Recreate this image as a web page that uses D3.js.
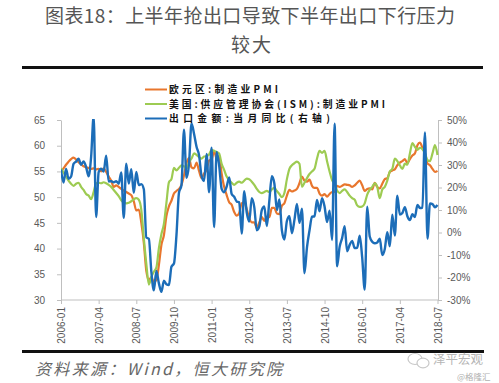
<!DOCTYPE html>
<html><head><meta charset="utf-8">
<script src="https://cdn.jsdelivr.net/npm/d3@7"></script>
<style>
body{margin:0;background:#fff;}
svg{display:block;}
</style></head><body>
<script>
// ---------- data ----------
const titleLines = ["图表18：上半年抢出口导致下半年出口下行压力", "较大"];
const sourceText = "资料来源：Wind，恒大研究院";
const seriesNames = ["欧元区:制造业PMI", "美国:供应管理协会(ISM):制造业PMI", "出口金额:当月同比(右轴)"];
const tickLabels = ["2006-01","2007-04","2008-07","2009-10","2011-01","2012-04","2013-07","2014-10","2016-01","2017-04","2018-07"];
const leftTicks = [30,35,40,45,50,55,60,65];
const rightTicks = [-30,-20,-10,0,10,20,30,40,50];

const euroPMI = [
 55.0,55.6,56.3,56.9,57.4,57.7,57.3,56.8,56.4,56.0,55.8,55.7,
 55.5,55.6,55.4,55.5,55.0,55.6,54.9,54.0,53.2,52.0,52.3,52.0,
 51.6,51.3,51.0,50.7,50.4,49.2,47.4,47.6,45.0,41.1,35.6,33.9,
 34.4,33.5,33.9,36.8,40.7,42.6,46.3,48.2,49.3,50.7,51.2,51.6,
 52.4,54.2,56.6,57.6,55.8,55.6,56.7,55.1,53.7,54.6,55.3,57.1,
 57.3,59.0,57.5,58.0,54.6,52.0,50.4,49.0,48.5,47.1,46.4,46.9,
 48.8,49.0,47.7,45.9,45.1,45.1,44.0,45.1,46.1,45.4,46.2,46.1,
 47.9,47.9,46.8,46.7,48.3,48.8,50.3,51.4,51.1,51.3,51.6,52.7,
 54.0,53.2,53.0,53.4,52.2,51.8,51.8,50.7,50.3,50.6,50.1,50.6,
 51.0,51.0,52.2,52.0,52.2,52.5,52.4,52.3,52.0,52.3,52.8,53.2,
 52.3,51.2,51.6,51.7,51.5,52.8,52.0,51.7,52.6,53.5,53.7,54.9,
 55.2,55.4,56.2,56.7,57.0,57.4,56.6,57.4,58.1,58.5,60.1,60.6,
 59.6,58.6,56.6,56.2,55.5,54.9,55.1
];
const usISM = [
 55.6,54.8,54.0,53.2,52.6,52.2,52.6,52.8,52.0,51.4,50.6,50.3,
 49.6,51.0,52.7,52.8,52.7,52.9,52.7,52.4,52.0,51.4,50.8,50.2,
 49.4,49.0,48.8,48.9,49.2,49.6,49.8,49.5,47.5,42.0,37.0,33.0,
 34.5,35.5,36.3,40.1,42.8,44.8,48.9,52.9,53.5,55.7,55.2,55.7,
 56.2,56.0,55.5,56.8,57.5,58.5,58.2,57.8,57.5,57.9,58.0,58.3,
 59.2,59.0,58.8,58.5,56.5,55.3,54.0,53.3,52.8,52.4,52.8,53.0,
 52.8,53.2,53.6,53.5,53.0,52.4,51.6,51.0,50.8,51.0,51.2,51.0,
 51.5,51.8,51.2,50.6,50.0,50.8,53.5,55.5,56.2,56.6,56.9,56.5,
 52.0,52.8,53.7,54.5,55.0,55.5,57.5,59.0,58.6,59.0,57.0,55.0,
 53.3,52.5,51.3,50.8,51.2,51.5,51.0,50.3,49.8,49.5,48.4,48.1,
 48.2,48.8,50.5,51.4,52.0,52.7,52.0,49.8,51.5,52.0,53.2,55.0,
 55.5,57.5,57.0,56.2,55.5,56.5,56.3,58.5,60.5,59.8,59.2,59.6,
 59.3,58.5,57.2,57.0,58.5,60.1,58.2
];
const chinaExport = [
 28.0,22.2,28.3,23.9,24.8,30.5,31.5,32.8,30.1,31.6,29.1,25.0,
 33.6,51.6,6.9,26.8,28.4,27.1,34.1,22.7,22.8,22.3,22.8,21.7,
 26.7,6.5,30.6,21.8,28.1,17.6,26.9,21.1,21.5,19.2,-2.2,-2.8,
 -17.5,-25.7,-17.1,-22.6,-26.4,-21.4,-23.0,-23.4,-15.2,-13.8,-1.2,17.7,
 21.0,45.7,24.3,30.5,48.5,43.9,38.1,34.4,25.1,22.9,34.9,17.9,
 37.7,2.4,35.8,29.9,19.4,17.9,20.4,24.5,17.1,15.9,13.8,13.4,
 -0.5,18.4,8.9,4.9,15.3,11.3,1.0,2.7,9.9,11.6,2.9,14.1,
 25.0,21.8,10.0,14.7,1.0,-3.1,5.1,7.2,-0.3,5.6,12.7,4.3,
 10.6,-18.1,-6.6,0.9,7.0,7.2,14.5,9.4,15.3,11.6,4.7,9.7,
 -3.3,48.3,-15.0,-6.4,-2.5,2.8,-8.3,-5.5,-3.7,-6.9,-6.8,-1.4,
 -11.2,-25.4,11.5,-1.8,-4.1,-4.8,-4.4,-2.8,-10.0,-7.3,0.1,-6.1,
 7.9,-1.3,16.4,8.0,8.7,11.3,7.2,5.5,8.1,6.9,12.3,10.9,
 11.1,44.5,-2.7,12.9,12.6,11.2,12.2
];
const colors = ["#E8762D", "#9DCB52", "#1C6DB8"];

// ---------- chart ----------
const W = 499, H = 383;
const months = d3.timeMonths(new Date(2006,0,1), new Date(2018,7,1)).map(d3.timeFormat("%Y-%m"));
const svg = d3.select("body").append("svg").attr("width", W).attr("height", H);

const x = d3.scalePoint().domain(months).range([61, 437.5]);
const yL = d3.scaleLinear().domain([30, 65]).range([300, 120]);
const yR = d3.scaleLinear().domain([-30, 50]).range([300, 120]);

const cjk = "'Noto Sans CJK SC','Noto Sans SC',sans-serif";
const latin = "'Liberation Sans',Arial,sans-serif";

// title
svg.append("text").attr("x", 45).attr("y", 23).attr("font-family", cjk).attr("font-size", 19)
  .attr("fill", "#555").attr("textLength", 410).attr("lengthAdjust", "spacing").text(titleLines[0]);
svg.append("text").attr("x", 252).attr("y", 52).attr("text-anchor", "middle").attr("font-family", cjk)
  .attr("font-size", 19).attr("fill", "#555").attr("letter-spacing", 2).text(titleLines[1]);
svg.append("rect").attr("x", 22).attr("y", 66).attr("width", 461).attr("height", 3).attr("fill", "#111");

// axes
const axisColor = "#BFBFBF", labelColor = "#595959";
function styleAxis(g){
  g.select(".domain").attr("stroke", axisColor);
  g.selectAll(".tick line").attr("stroke", axisColor);
  g.selectAll("text").attr("fill", labelColor).attr("font-family", latin).attr("font-size", 10);
}
svg.append("g").attr("transform", "translate(61,0)")
  .call(d3.axisLeft(yL).tickValues(leftTicks).tickSize(4).tickSizeOuter(0).tickPadding(12))
  .call(styleAxis);
svg.append("g").attr("transform", "translate(438,0)")
  .call(d3.axisRight(yR).tickValues(rightTicks).tickSize(4).tickSizeOuter(0).tickPadding(5)
        .tickFormat(d => d + "%"))
  .call(styleAxis);
const xg = svg.append("g").attr("transform", "translate(0,300)")
  .call(d3.axisBottom(x).tickValues(tickLabels).tickSize(4).tickSizeOuter(0))
  .call(styleAxis);
xg.select(".domain").attr("d", "M61,0H438");
xg.selectAll(".tick text").attr("transform", "rotate(-90)").attr("text-anchor", "end")
  .attr("x", -7).attr("y", 0).attr("dy", "0.35em");

// lines
svg.append("clipPath").attr("id", "clip").append("rect").attr("x", 61).attr("y", 119).attr("width", 378).attr("height", 182);
const plot = svg.append("g").attr("clip-path", "url(#clip)");
const lineL = d3.line().x((d, i) => x(months[i])).y(d => yL(d)).curve(d3.curveMonotoneX);
const lineR = d3.line().x((d, i) => x(months[i])).y(d => yR(d)).curve(d3.curveMonotoneX);
plot.append("path").datum(euroPMI).attr("d", lineL).attr("fill", "none").attr("stroke", colors[0]).attr("stroke-width", 2.2).attr("stroke-linejoin", "round");
plot.append("path").datum(usISM).attr("d", lineL).attr("fill", "none").attr("stroke", colors[1]).attr("stroke-width", 2.2).attr("stroke-linejoin", "round");
plot.append("path").datum(chinaExport).attr("d", lineR).attr("fill", "none").attr("stroke", colors[2]).attr("stroke-width", 2.4).attr("stroke-linejoin", "round");

// legend
const legY = [89.5, 104, 118.5];
const legW = [110, 217, 162];
seriesNames.forEach((name, i) => {
  svg.append("line").attr("x1", 145).attr("x2", 167).attr("y1", legY[i]).attr("y2", legY[i])
    .attr("stroke", colors[i]).attr("stroke-width", 2);
  svg.append("text").attr("x", 169).attr("y", legY[i]).attr("dy", "0.36em").attr("font-family", cjk).attr("font-weight", "bold")
    .attr("font-size", 9.8).attr("fill", "#111").attr("textLength", legW[i] - 1).attr("lengthAdjust", "spacing").text(name);
});

// bottom rule + source
svg.append("rect").attr("x", 22).attr("y", 350).attr("width", 462).attr("height", 3).attr("fill", "#111");
svg.append("text").attr("x", 35).attr("y", 375).attr("font-family", cjk).attr("font-style", "italic")
  .attr("font-size", 16).attr("fill", "#666").attr("textLength", 247).attr("lengthAdjust", "spacing").text(sourceText);

// watermark
const wm = svg.append("g").attr("fill", "none").attr("stroke", "#c8c8c8").attr("stroke-width", 1.2);
wm.append("ellipse").attr("cx", 415).attr("cy", 359).attr("rx", 7).attr("ry", 5.5);
wm.append("ellipse").attr("cx", 423).attr("cy", 363).attr("rx", 6).attr("ry", 4.8).attr("fill", "#fff");
svg.append("text").attr("x", 433).attr("y", 364).attr("font-family", cjk).attr("font-size", 12.5)
  .attr("fill", "#b5b5b5").text("泽平宏观");
svg.append("text").attr("x", 457).attr("y", 380).attr("font-family", cjk).attr("font-size", 8.5)
  .attr("fill", "#b0b0b0").text("@格隆汇");
</script>
</body></html>
